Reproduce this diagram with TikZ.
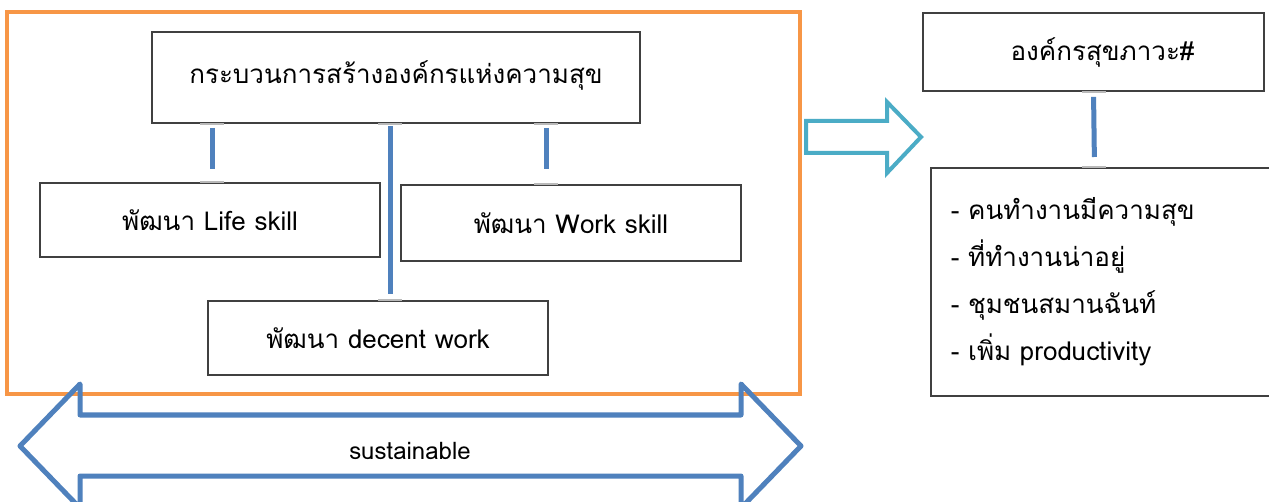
\documentclass[tikz,border=0pt]{standalone}
\usepackage{fontspec}
\setmainfont{Loma}[Script=Thai]
\usetikzlibrary{calc}
\definecolor{frameorange}{HTML}{F79646}
\definecolor{linkblue}{HTML}{4F81BD}
\definecolor{arrowteal}{HTML}{4BACC6}
\definecolor{boxgray}{HTML}{404040}
\tikzset{
  box/.style={draw=boxgray, line width=1.6pt, inner sep=0pt, align=center},
  link/.style={linkblue, line width=5pt},
  handle/.style={gray!55, line width=2pt},
}

\begin{document}
\begin{tikzpicture}[x=1pt,y=-1pt,font=\fontsize{26}{30}\selectfont]
\clip (0,0) rectangle (1269,502);
\fill[white] (0,0) rectangle (1269,502);

% frame round the process
\draw[frameorange, line width=4pt] (7,12) rectangle (800,394);

\node[box, minimum width=488pt, minimum height=91pt] (process) at (396,77.5) {\raisebox{10pt}{กระบวนการสร้างองค์กรแห่งความสุข}};
\node[box, minimum width=340pt, minimum height=74pt] (life) at (210,220) {พัฒนา Life skill};
\node[box, minimum width=340pt, minimum height=76pt] (work) at (571,223) {พัฒนา Work skill};
\node[box, minimum width=340pt, minimum height=74pt] (decent) at (378,338) {พัฒนา decent work};

\coordinate (lifeX) at (212,0);
\coordinate (midX) at (390,0);
\coordinate (workX) at (546,0);

\draw[link, shorten <=4pt, shorten >=13pt] (process.south -| lifeX) -- (life.north -| lifeX);
\draw[link, shorten <=2pt, shorten >=6pt] (process.south -| midX) -- (decent.north -| midX);
\draw[link, shorten <=4pt, shorten >=15pt] (process.south -| workX) -- (work.north -| workX);

% result side
\node[box, minimum width=341pt, minimum height=78pt] (health) at (1093.5,52) {\hspace{18pt}องค์กรสุขภาวะ\#};
\node[box, anchor=north west, minimum width=350pt, minimum height=228pt, text width=310pt,
  inner xsep=20pt, align=left, font=\fontsize{26}{47}\selectfont] (gain) at (930,167)
  {- คนทำงานมีความสุข\\- ที่ทำงานน่าอยู่\\- ชุมชนสมานฉันท์\\- เพิ่ม productivity};
\draw[link, shorten <=5pt, shorten >=10pt] (health.south) -- ([xshift=1pt]gain.north -| health.south);

% handles at the link ends
\foreach \p in {process.south -| lifeX, life.north -| lifeX, process.south -| midX,
  decent.north -| midX, process.south -| workX, work.north -| workX, health.south, gain.north -| health.south}
  \draw[handle] ($(\p)+(-12,0)$) -- ($(\p)+(12,0)$);

% block arrows
\draw[arrowteal, line width=4pt, line join=miter]
  (806,121) -- (887,121) -- (887,102) -- (921,137) -- (887,173) -- (887,153) -- (806,153) -- cycle;
\draw[linkblue, line width=5pt, line join=round]
  (20,446) -- (80,384) -- (80,415) -- (741,415) -- (741,384) -- (801,446)
  -- (741,508) -- (741,476) -- (80,476) -- (80,508) -- cycle;
\node[font=\fontsize{24}{28}\selectfont] (sustain) at (410,451) {sustainable};
\end{tikzpicture}
\end{document}
